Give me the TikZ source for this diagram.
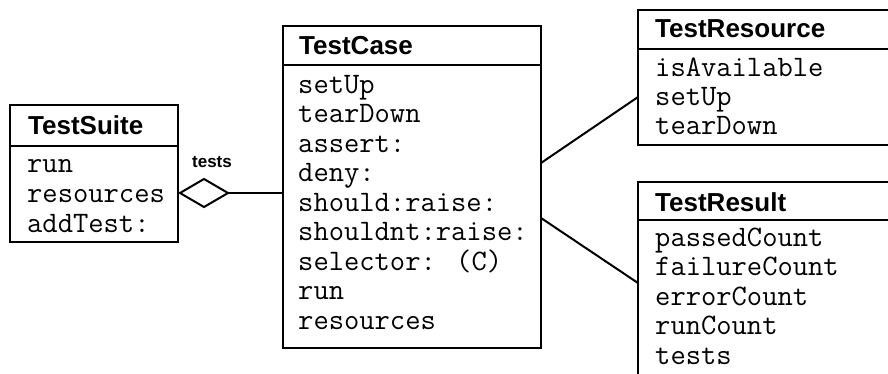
\documentclass[tikz,border=0pt]{standalone}
\usepackage{fontspec}
\setmainfont{Liberation Sans}
\usetikzlibrary{shapes.geometric}
\tikzset{
  classbox/.style={draw, line width=2pt, rectangle, anchor=north west, inner sep=0pt, outer sep=0pt},
  conn/.style={line width=2pt},
  head/.style={anchor=base west, inner sep=0pt, font=\fontsize{26}{30}\selectfont\bfseries},
  mono/.style={anchor=base west, inner sep=0pt, font=\fontsize{29.7}{30}\selectfont\ttfamily},
  lbl/.style={inner sep=0pt, font=\fontsize{17}{20}\selectfont\bfseries}
}
\begin{document}
\begin{tikzpicture}[x=1pt,y=-1pt]
\path[use as bounding box, clip] (0,0) rectangle (888,373);
% TestSuite
\node[classbox, minimum width=168pt, minimum height=137pt] (ts) at (10,105) {};
\draw[conn] ([yshift=-41pt]ts.north west) -- ([yshift=-41pt]ts.north east);
\node[head] (tsh) at (28,134) {TestSuite};
\foreach \t [count=\i] in {run,resources,addTest:}
  \node[mono] (ts-\i) at (27,172+30*\i-30) {\t};
% TestCase
\node[classbox, minimum width=258pt, minimum height=322pt] (tc) at (283,26) {};
\draw[conn] ([yshift=-39pt]tc.north west) -- ([yshift=-39pt]tc.north east);
\node[head] (tch) at (299,54) {TestCase};
\foreach \t [count=\i] in {setUp,tearDown,assert:,deny:,should:raise:,shouldnt:raise:,selector: (C),run,resources}
  \node[mono] (tc-\i) at (298,93+29.5*\i-29.5) {\t};
% TestResource
\node[classbox, minimum width=262pt, minimum height=135pt] (tres) at (638,10) {};
\draw[conn] ([yshift=-39pt]tres.north west) -- ([yshift=-39pt]tres.north east);
\node[head] (tresh) at (655,37) {TestResource};
\foreach \t [count=\i] in {isAvailable,setUp,tearDown}
  \node[mono] (tres-\i) at (655,76+29*\i-29) {\t};
% TestResult
\node[classbox, minimum width=262pt, minimum height=218pt] (tr) at (638,182) {};
\draw[conn] ([yshift=-38pt]tr.north west) -- ([yshift=-38pt]tr.north east);
\node[head] (trh) at (655,211) {TestResult};
\foreach \t [count=\i] in {passedCount,failureCount,errorCount,runCount,tests}
  \node[mono] (tr-\i) at (655,246+29.5*\i-29.5) {\t};
% aggregation
\node[diamond, draw, line width=2pt, fill=white, minimum width=48pt, minimum height=28pt, inner sep=0pt, outer sep=0pt] (dia) at (204,193) {};
\draw[conn] (dia.east) -- (dia.east -| tc.west);
\node[lbl] (tests) at (212,162) {tests};
% associations
\draw[conn] ([yshift=24pt]tc.east) -- ([yshift=-19.5pt]tres.west);
\draw[conn] ([yshift=-31pt]tc.east) -- ([yshift=8pt]tr.west);
\end{tikzpicture}
\end{document}
